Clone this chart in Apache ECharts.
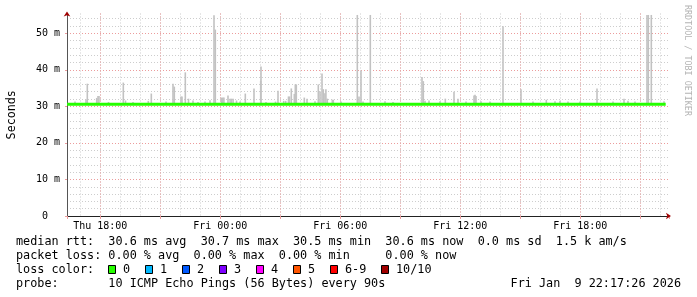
<!DOCTYPE html>
<html><head><meta charset="utf-8">
<script src="https://cdn.jsdelivr.net/npm/echarts@6/dist/echarts.min.js"></script>
<style>html,body{margin:0;padding:0;background:#fff}#c{width:697px;height:297px}</style>
</head><body><div id="c"></div>
<script>
// ---- data (hours since Thu 00:00, milliseconds) ----
const xTickHours = [18, 24, 30, 36, 42];
const xTickLabels = ['Thu 18:00', 'Fri 00:00', 'Fri 06:00', 'Fri 12:00', 'Fri 18:00'];
const yTickValues = [0, 10, 20, 30, 40, 50];
const yTickLabels = ['0  ', '10 m', '20 m', '30 m', '40 m', '50 m'];
// median rtt line [hour, ms]
const medianRtt = [[16.34, 30.6], [21.0, 30.6], [22.5, 30.6], [25.0, 30.6], [27.0, 30.6], [28.0, 30.6],
  [31.0, 30.6], [35.0, 30.6], [38.0, 30.6], [40.0, 30.6], [44.5, 30.6], [46.27, 30.6]];
// smoke (max ping) spikes [hour, ms]
const smokeMax = [
  [16.735, 31.3], [17.285, 31.9], [17.35, 36.2], [17.82, 32.3], [17.885, 32.8], [17.935, 32.8], [18.41, 31.2],
  [19.15, 36.5], [19.26, 31.6], [19.635, 31.2], [20.40, 31.5], [20.55, 33.5], [21.285, 31.3], [21.635, 36.2],
  [21.70, 35.4], [22.035, 32.7], [22.085, 32.7], [22.25, 39.3], [22.41, 32.1], [22.635, 31.6], [22.885, 31.2],
  [23.235, 31.3], [23.485, 31.7], [23.685, 54.9], [23.75, 51.0], [24.06, 32.4], [24.12, 32.4], [24.18, 32.4],
  [24.385, 33.0], [24.49, 32.1], [24.56, 32.1], [24.64, 32.1], [24.81, 31.6], [24.985, 31.3], [25.25, 33.5],
  [25.685, 34.9], [26.02, 37.0], [26.035, 40.9], [26.285, 31.2], [26.76, 31.3], [26.885, 34.3], [27.17, 31.5],
  [27.27, 31.5], [27.41, 32.7], [27.46, 32.7], [27.55, 34.9], [27.7, 33.4], [27.75, 36.0], [27.8, 36.0],
  [28.2, 32.4], [28.335, 32.1], [28.735, 31.4], [28.9, 36.0], [28.985, 34.0], [29.085, 39.0], [29.15, 34.7],
  [29.23, 33.6], [29.28, 34.7], [29.35, 32.1], [29.6, 31.8], [29.65, 31.8], [30.035, 31.3], [30.85, 55.0],
  [30.935, 32.7], [31.035, 39.8], [31.135, 31.3], [31.5, 55.0], [32.235, 31.4], [32.635, 31.2], [34.085, 38.0],
  [34.15, 36.9], [34.235, 31.5], [34.435, 31.6], [34.985, 31.4], [35.25, 32.1], [35.685, 34.0], [35.885, 32.1],
  [36.285, 31.3], [36.685, 33.0], [36.735, 33.2], [36.785, 32.8], [37.035, 31.4], [37.485, 31.3], [38.135, 51.9],
  [39.035, 34.7], [39.635, 31.3], [40.3, 31.8], [40.735, 31.4], [40.985, 31.5], [41.385, 31.3], [41.985, 31.3],
  [42.835, 34.9], [43.635, 31.3], [44.185, 32.1], [44.385, 31.5], [44.735, 31.3], [45.335, 55.0], [45.4, 55.0],
  [45.55, 55.0], [46.185, 31.4]
];
const smokeBase = 30.6;
const lossLabels = ['0', '1', '2', '3', '4', '5', '6-9', '10/10'];
const lossColors = ['#26ff00', '#00b8ff', '#0059ff', '#7e00ff', '#ff00ff', '#ff5500', '#ff0000', '#a10000'];
const legendLines = [
  'median rtt:  30.6 ms avg  30.7 ms max  30.5 ms min  30.6 ms now  0.0 ms sd  1.5 k am/s',
  'packet loss: 0.00 % avg  0.00 % max  0.00 % min     0.00 % now'
];
const probeText = 'probe:       10 ICMP Echo Pings (56 Bytes) every 90s';
const stampText = 'Fri Jan  9 22:17:26 2026';

// ---- layout ----
const XMIN = 16.335, XMAX = 46.435, YMAX = 55.4;
const MONO = 'DejaVu Sans Mono';
const minorC = '#cdcdcd', majorC = '#ec9c9c', axisC = '#222222', arrowC = '#a00000';
const DASH = [1, 2];

function xAxisBase(extra) {
  return Object.assign({
    type: 'value', min: XMIN, max: XMAX, position: 'bottom',
    axisLine: { show: false, onZero: false }, axisTick: { show: false },
    axisLabel: { show: false }, splitLine: { show: false }
  }, extra);
}
function yAxisBase(extra) {
  return Object.assign({
    type: 'value', min: 0, max: YMAX, position: 'left',
    axisLine: { show: false, onZero: false }, axisTick: { show: false },
    axisLabel: { show: false }, splitLine: { show: false }
  }, extra);
}

const xAxes = [
  xAxisBase({ axisLine: { show: true, onZero: false, symbol: ['none', 'arrow'], symbolSize: [5, 5], symbolOffset: [0, 2], lineStyle: { color: arrowC } } }),
  xAxisBase({ minInterval: 1, maxInterval: 1, splitNumber: 30,
    splitLine: { show: true, showMinLine: false, showMaxLine: false, lineStyle: { color: minorC, type: DASH, width: 1 } } }),
  xAxisBase({ minInterval: 3, maxInterval: 3, splitNumber: 10,
    axisTick: { show: true, inside: false, length: 3, lineStyle: { color: majorC } },
    splitLine: { show: true, showMinLine: false, showMaxLine: false, lineStyle: { color: majorC, type: DASH, width: 1 } } }),
  xAxisBase({ minInterval: 6, maxInterval: 6, splitNumber: 5,
    axisLine: { show: true, onZero: false, lineStyle: { color: axisC } },
    axisLabel: { show: true, showMinLabel: false, showMaxLabel: false, margin: 5, fontFamily: MONO, fontSize: 10, color: '#000',
      formatter: v => { const i = xTickHours.indexOf(Math.round(v)); return i >= 0 ? xTickLabels[i] : ''; } } })
];
const yAxes = [
  yAxisBase({ axisLine: { show: true, onZero: false, symbol: ['none', 'arrow'], symbolSize: [5, 5], symbolOffset: [0, 2], lineStyle: { color: arrowC } } }),
  yAxisBase({ interval: 2,
    splitLine: { show: true, showMinLine: false, showMaxLine: false, lineStyle: { color: minorC, type: DASH, width: 1 } } }),
  yAxisBase({ interval: 10,
    axisLine: { show: true, onZero: false, lineStyle: { color: '#555555' } },
    axisTick: { show: true, length: 2, lineStyle: { color: majorC } },
    name: 'Seconds', nameLocation: 'middle', nameGap: 49, nameRotate: 90,
    nameTextStyle: { fontFamily: MONO, fontSize: 11.7, color: '#000' },
    axisLabel: { show: true, showMaxLabel: false, margin: 7, fontFamily: MONO, fontSize: 10, color: '#000',
      formatter: v => { const i = yTickValues.indexOf(Math.round(v)); return i >= 0 ? yTickLabels[i] : ''; } },
    splitLine: { show: true, showMinLine: false, showMaxLine: false, lineStyle: { color: majorC, type: DASH, width: 1 } } })
];

// legend graphics
const graphics = [];
const LX = 16, LY = [241.5, 255.5, 269.5, 283.5], FS = 11.8;
const txt = (x, y, s, align) => ({ type: 'text', x: x, y: y, silent: true,
  style: { text: s, fontFamily: MONO, fontSize: FS, fill: '#000', textAlign: align || 'left', textVerticalAlign: 'middle' } });
graphics.push(txt(LX, LY[0], legendLines[0]));
graphics.push(txt(LX, LY[1], legendLines[1]));
graphics.push(txt(LX, LY[2], 'loss color:'));
lossLabels.forEach((lab, i) => {
  const bx = 108.5 + 37 * i + (i >= 7 ? 14 : 0);
  graphics.push({ type: 'rect', silent: true, shape: { x: bx, y: 265.5, width: 7, height: 8 },
    style: { fill: lossColors[i], stroke: '#000', lineWidth: 1 } });
  graphics.push(txt(bx + 14.5, LY[2], lab));
});
graphics.push(txt(LX, LY[3], probeText));
graphics.push(txt(681, LY[3], stampText, 'right'));
graphics.push({ type: 'text', x: 687.5, y: 5, rotation: -Math.PI / 2, silent: true,
  style: { text: 'RRDTOOL / TOBI OETIKER', fontFamily: MONO, fontSize: 8.4, fill: '#b4b4b4', textAlign: 'left', textVerticalAlign: 'middle' } });

const chart = echarts.init(document.getElementById('c'), null, { renderer: 'canvas' });
chart.setOption({
  backgroundColor: '#ffffff',
  animation: false,
  grid: { left: 67, right: 28, top: 13.5, bottom: 81, containLabel: false, outerBoundsMode: 'none' },
  xAxis: xAxes,
  yAxis: yAxes,
  graphic: graphics,
  series: [
    { type: 'custom', xAxisIndex: 1, yAxisIndex: 1, data: smokeMax, encode: { x: 0, y: 1 }, z: 2,
      renderItem: (params, api) => {
        const top = api.coord([api.value(0), api.value(1)]);
        const base = api.coord([api.value(0), smokeBase]);
        return { type: 'rect', shape: { x: top[0] - 0.8, y: top[1], width: 1.6, height: base[1] - top[1] },
          style: { fill: '#c2c2c2' } };
      } },
    { type: 'line', xAxisIndex: 1, yAxisIndex: 1, data: medianRtt, showSymbol: false, z: 3,
      lineStyle: { color: '#26ff00', width: 3 } }
  ]
});
</script></body></html>
